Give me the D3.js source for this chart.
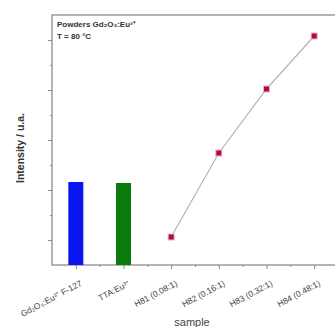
<!DOCTYPE html>
<html>
<head>
<meta charset="utf-8">
<script src="https://cdn.jsdelivr.net/npm/d3@7"></script>
<style>
  body { margin: 0; background: #fff; }
  svg { font-family: 'Liberation Sans', Arial, sans-serif; }
</style>
</head>
<body>
<div id="chart"></div>
<script>
// data
const categories = ['Gd\u2082O\u2083:Eu\u00b3\u207a F-127', 'TTA:Eu\u00b3\u207a', 'H81 (0.08:1)', 'H82 (0.16:1)', 'H83 (0.32:1)', 'H84 (0.48:1)'];
const barSamples = ['Gd\u2082O\u2083:Eu\u00b3\u207a F-127', 'TTA:Eu\u00b3\u207a'];
const barValues = [1.66, 1.64];
const barColors = ['#0a14f0', '#0a7a0a'];
const lineSamples = ['H81 (0.08:1)', 'H82 (0.16:1)', 'H83 (0.32:1)', 'H84 (0.48:1)'];
const lineValues = [0.56, 2.24, 3.52, 4.58];
const yMajorTicks = [0.5, 1.5, 2.5, 3.5, 4.5];
const yMinorTicks = [1, 2, 3, 4];

const width = 335, height = 327;
const margin = { left: 52, top: 15, right: -3, bottom: 62 };
const innerW = width - margin.left - margin.right;
const innerH = height - margin.top - margin.bottom;

const svg = d3.select('#chart').append('svg')
  .attr('width', width)
  .attr('height', height);

const g = svg.append('g')
  .attr('transform', `translate(${margin.left},${margin.top})`);

// index based x scale so minor ticks can sit between categories
const x = d3.scaleLinear()
  .domain([-0.5, categories.length - 0.5])
  .range([0, innerW]);
const xOf = name => x(categories.indexOf(name));

const y = d3.scaleLinear()
  .domain([0, 5])
  .range([innerH, 0]);

// frame
g.append('rect')
  .attr('width', innerW)
  .attr('height', innerH)
  .attr('fill', 'none')
  .attr('stroke', '#8a8a8a')
  .attr('stroke-width', 1.3);

// bars
const barW = 15;
g.selectAll('.bar')
  .data(barSamples)
  .join('rect')
  .attr('class', 'bar')
  .attr('x', d => xOf(d) - barW / 2)
  .attr('y', (d, i) => y(barValues[i]))
  .attr('width', barW)
  .attr('height', (d, i) => innerH - y(barValues[i]))
  .attr('fill', (d, i) => barColors[i]);

// line + points
const line = d3.line()
  .x((d, i) => xOf(lineSamples[i]))
  .y(d => y(d));

g.append('path')
  .datum(lineValues)
  .attr('d', line)
  .attr('fill', 'none')
  .attr('stroke', '#b4b4b4')
  .attr('stroke-width', 1.2);

g.selectAll('.pt')
  .data(lineValues)
  .join('rect')
  .attr('class', 'pt')
  .attr('x', (d, i) => xOf(lineSamples[i]) - 3)
  .attr('y', d => y(d) - 3)
  .attr('width', 6)
  .attr('height', 6)
  .attr('fill', '#a8103a')
  .attr('stroke', '#f4b0c4')
  .attr('stroke-width', 1);

// y axis ticks (no labels)
g.append('g')
  .call(d3.axisLeft(y).tickValues(yMajorTicks).tickSize(4).tickFormat(''));
g.append('g')
  .call(d3.axisLeft(y).tickValues(yMinorTicks).tickSize(2).tickFormat(''));
g.selectAll('.domain').remove();
g.selectAll('.tick line').attr('stroke', '#8a8a8a');

// x axis
const xAxis = g.append('g')
  .attr('transform', `translate(0,${innerH})`)
  .call(d3.axisBottom(x)
    .tickValues(d3.range(categories.length))
    .tickSize(4)
    .tickFormat(i => categories[i]));
xAxis.select('.domain').remove();
xAxis.selectAll('.tick line').attr('stroke', '#8a8a8a');
xAxis.selectAll('.tick text')
  .attr('text-anchor', 'end')
  .attr('font-size', 8.5)
  .attr('fill', '#444')
  .attr('dx', 0)
  .attr('dy', 0)
  .attr('transform', 'translate(3,14) rotate(-28)');

g.append('g')
  .attr('transform', `translate(0,${innerH})`)
  .call(d3.axisBottom(x)
    .tickValues(d3.range(categories.length - 1).map(i => i + 0.5))
    .tickSize(2)
    .tickFormat(''))
  .call(s => s.select('.domain').remove())
  .selectAll('.tick line').attr('stroke', '#8a8a8a');

// annotation
const note = g.append('text')
  .attr('x', 5)
  .attr('y', 12)
  .attr('font-size', 8)
  .attr('font-weight', 'bold')
  .attr('fill', '#333');
note.append('tspan').text('Powders Gd\u2082O\u2083:Eu\u00b3\u207a');
note.append('tspan').attr('x', 5).attr('dy', 12).text('T = 80 \u00b0C');

// axis titles
svg.append('text')
  .attr('transform', `translate(24,${margin.top + innerH / 2 + 8}) rotate(-90)`)
  .attr('text-anchor', 'middle')
  .attr('font-size', 10.5)
  .attr('font-weight', 'bold')
  .attr('fill', '#333')
  .text('Intensity / u.a.');

svg.append('text')
  .attr('x', 192)
  .attr('y', 326)
  .attr('text-anchor', 'middle')
  .attr('font-size', 11)
  .attr('fill', '#444')
  .text('sample');
</script>
</body>
</html>
